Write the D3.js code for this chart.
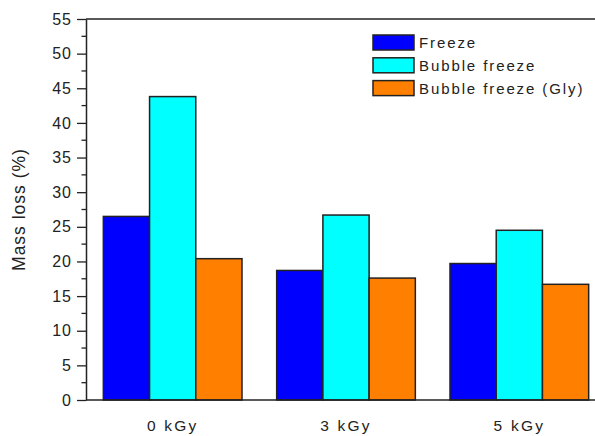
<!DOCTYPE html>
<html>
<head>
<meta charset="utf-8">
<script src="https://cdn.jsdelivr.net/npm/d3@7"></script>
<style>
  body { margin: 0; background: #fff; }
  text { font-family: "Liberation Sans", Arial, sans-serif; fill: #222; }
</style>
</head>
<body>
<div id="chart"></div>
<script>
const doses = ["0 kGy", "3 kGy", "5 kGy"];
const seriesNames = ["Freeze", "Bubble freeze", "Bubble freeze (Gly)"];
const freeze = [26.5, 18.7, 19.7];
const bubbleFreeze = [43.8, 26.7, 24.5];
const bubbleFreezeGly = [20.4, 17.6, 16.7];
const colors = ["#0000ff", "#00ffff", "#ff8000"];
const yTicks = [0, 5, 10, 15, 20, 25, 30, 35, 40, 45, 50, 55];

const allSeries = [freeze, bubbleFreeze, bubbleFreezeGly];
const rows = doses.map((d, i) => ({
  dose: d,
  values: seriesNames.map((s, j) => ({ name: s, value: allSeries[j][i] }))
}));

const width = 595;
const height = 436;
const margin = { top: 19, left: 86, bottom: 36 };
const plotRight = 606; // frame runs past the visible edge

const svg = d3
  .select("#chart")
  .append("svg")
  .attr("width", width)
  .attr("height", height);

const x0 = d3
  .scaleBand()
  .domain(doses)
  .range([margin.left, plotRight])
  .paddingInner(0.2)
  .paddingOuter(0.1);

const x1 = d3
  .scaleBand()
  .domain(seriesNames)
  .range([0, x0.bandwidth()]);

const y = d3
  .scaleLinear()
  .domain([0, 55])
  .range([height - margin.bottom, margin.top]);

const color = d3.scaleOrdinal().domain(seriesNames).range(colors);

// bars
svg
  .append("g")
  .selectAll("g")
  .data(rows)
  .enter()
  .append("g")
  .attr("transform", d => `translate(${x0(d.dose)},0)`)
  .selectAll("rect")
  .data(d => d.values)
  .enter()
  .append("rect")
  .attr("x", d => x1(d.name))
  .attr("y", d => y(d.value))
  .attr("width", x1.bandwidth())
  .attr("height", d => y(0) - y(d.value))
  .style("fill", d => color(d.name))
  .style("stroke", "#222")
  .style("stroke-width", 1.5);

// frame top
svg
  .append("line")
  .attr("x1", margin.left)
  .attr("x2", plotRight)
  .attr("y1", y(55))
  .attr("y2", y(55))
  .style("stroke", "#222")
  .style("stroke-width", 1.5);

// x axis
const xAxis = svg
  .append("g")
  .attr("transform", `translate(0,${y(0)})`)
  .call(d3.axisBottom(x0).tickSize(0).tickPadding(20));
xAxis.select(".domain").attr("d", `M${margin.left},0H${plotRight}`)
  .style("stroke", "#222").style("stroke-width", 1.5);
xAxis
  .selectAll("text")
  .style("font-size", "15.5px")
  .style("letter-spacing", "2.2px")
  .style("fill", "#222");

// y axis
const yAxis = svg
  .append("g")
  .attr("transform", `translate(${margin.left},0)`)
  .call(d3.axisLeft(y).tickValues(yTicks).tickSize(9).tickPadding(5).tickSizeOuter(0));
yAxis.select(".domain").style("stroke", "#222").style("stroke-width", 1.5);
yAxis.selectAll(".tick line").style("stroke", "#222").style("stroke-width", 1.3);
yAxis
  .selectAll("text")
  .style("font-size", "16px")
  .style("letter-spacing", "1px")
  .style("fill", "#222");

// minor ticks
svg
  .append("g")
  .selectAll("line")
  .data(d3.range(2.5, 55, 5))
  .enter()
  .append("line")
  .attr("x1", margin.left - 4.5)
  .attr("x2", margin.left)
  .attr("y1", d => y(d))
  .attr("y2", d => y(d))
  .style("stroke", "#222")
  .style("stroke-width", 1.3);

// y label
svg
  .append("text")
  .attr("transform", `translate(25,${(y(0) + y(55)) / 2}) rotate(-90)`)
  .attr("text-anchor", "middle")
  .style("font-size", "17.5px")
  .style("letter-spacing", "1px")
  .text("Mass loss (%)");

// legend
const legend = svg
  .append("g")
  .attr("transform", "translate(373,35)")
  .selectAll("g")
  .data(seriesNames)
  .enter()
  .append("g")
  .attr("transform", (d, i) => `translate(0,${i * 22.8})`);

legend
  .append("rect")
  .attr("width", 41)
  .attr("height", 15)
  .style("fill", d => color(d))
  .style("stroke", "#222")
  .style("stroke-width", 1.5);

legend
  .append("text")
  .attr("x", 46)
  .attr("y", 13)
  .style("font-size", "15px")
  .style("letter-spacing", "1.9px")
  .text(d => d);
</script>
</body>
</html>
